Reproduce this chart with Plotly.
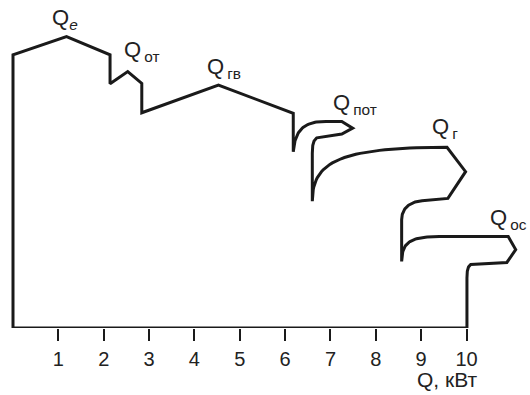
import numpy as np
import plotly.graph_objects as go

# ---- data (kW units on both axes) ----
tick_values = [1, 2, 3, 4, 5, 6, 7, 8, 9, 10]
tick_labels = ["1", "2", "3", "4", "5", "6", "7", "8", "9", "10"]

flow_names = ["e", "от", "гв", "пот", "г", "ос"]

# supply roof with Q_от and Q_гв outflows (straight polyline)
roof_x = [0.0, 0.0, 1.18, 2.14, 2.14, 2.53, 2.84, 2.84, 4.53, 6.18, 6.18]
roof_y = [0.0, 6.03, 6.43, 6.03, 5.39, 5.66, 5.40, 4.75, 5.36, 4.74, 3.89]

# curved outflow arrows: outer bezier, flat top end, tip, lower corner,
# inner bezier, stem bottom
pot_outer = [(6.18, 3.89), (6.22, 4.36), (6.40, 4.56), (6.90, 4.56)]
pot_arrow = [(7.25, 4.56), (7.49, 4.41), (7.25, 4.28), (6.81, 4.225)]
pot_inner = [(6.81, 4.225), (6.65, 4.22), (6.60, 4.12), (6.60, 3.86)]
pot_stem = [(6.60, 2.80)]

g_outer = [(6.60, 2.80), (6.60, 3.68), (7.21, 3.98), (9.57, 3.99)]
g_arrow = [(9.98, 3.45), (9.59, 2.86), (9.02, 2.81)]
g_inner = [(9.02, 2.81), (8.70, 2.78), (8.57, 2.60), (8.57, 2.39)]
g_stem = [(8.57, 1.47)]

os_outer = [(8.57, 1.47), (8.58, 1.90), (8.75, 2.01), (9.40, 2.02)]
os_arrow = [(10.92, 2.02), (11.085, 1.73), (10.89, 1.447), (10.19, 1.418)]
os_inner = [(10.19, 1.418), (10.05, 1.418), (10.01, 1.35), (10.01, 1.10)]
os_stem = [(10.01, 0.0), (0.0, 0.0)]


def bez(p, n=40):
    t = np.linspace(0, 1, n)[:, None]
    p = np.array(p)
    pts = ((1 - t) ** 3) * p[0] + 3 * ((1 - t) ** 2) * t * p[1] + 3 * (1 - t) * t ** 2 * p[2] + t ** 3 * p[3]
    return [tuple(q) for q in pts]


path = list(zip(roof_x, roof_y))
path += bez(pot_outer) + pot_arrow + bez(pot_inner) + pot_stem
path += bez(g_outer) + g_arrow + bez(g_inner) + g_stem
path += bez(os_outer) + os_arrow + bez(os_inner) + os_stem
px = [p[0] for p in path]
py = [p[1] for p in path]

INK = "#1a1a1a"
TXT = "#222222"
FONT = "Liberation Sans, Arial, sans-serif"

fig = go.Figure()
fig.add_trace(go.Scatter(x=px, y=py, mode="lines",
                         line=dict(color=INK, width=3), hoverinfo="skip",
                         cliponaxis=False, showlegend=False))

x_px0, x_scale = 13.0, 45.35
base_px = 328.3
W, H = 530, 395


def to_x(pix):
    return (pix - x_px0) / x_scale


def to_y(pix):
    return (base_px - pix) / x_scale


fig.update_layout(
    template="none",
    width=W, height=H,
    margin=dict(l=0, r=0, t=0, b=H - base_px, pad=0),
    plot_bgcolor="white", paper_bgcolor="white",
    xaxis=dict(range=[to_x(0), to_x(W)],
               tickvals=tick_values, ticktext=tick_labels,
               ticks="outside", ticklen=12, tickwidth=2, tickcolor=INK,
               showgrid=False, zeroline=False, showline=False,
               automargin=False, ticklabelstandoff=1,
               tickfont=dict(family=FONT, size=20, color=TXT)),
    yaxis=dict(range=[0, to_y(0)], visible=False,
               showgrid=False, zeroline=False, automargin=False),
)

# label anchor (left edge, top of capital) in pixels
label_px = {"e": (51.7, 8.3), "от": (124, 40), "гв": (206.7, 56.7),
            "пот": (333, 93), "г": (431.7, 116.7), "ос": (490, 208)}
for name in flow_names:
    lx, ly = label_px[name]
    sub = "<i>e</i>" if name == "e" else "\u2009" + name
    txt = "Q<sub>" + sub + "</sub>"
    fig.add_annotation(x=to_x(lx - 2), y=to_y(ly - 5), xref="x", yref="y",
                       text=txt, showarrow=False,
                       xanchor="left", yanchor="top",
                       font=dict(family=FONT, size=22, color=TXT))

fig.add_annotation(x=447.5 / W, y=(base_px - 380) / base_px,
                   xref="paper", yref="paper",
                   text="Q, кВт", showarrow=False,
                   xanchor="center", yanchor="middle",
                   font=dict(family=FONT, size=21, color=TXT))

fig.write_html("out.html", config={"displayModeBar": False},
               post_script="document.body.style.margin='0px';document.body.style.overflow='hidden';")
